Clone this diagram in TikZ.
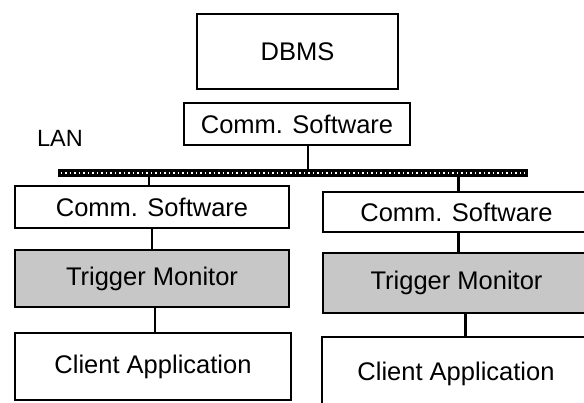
\documentclass[tikz,border=0pt]{standalone}
\usepackage{fontspec}
\setmainfont{Liberation Sans}
\usetikzlibrary{calc}
\begin{document}
\begin{tikzpicture}[x=1pt,y=-1pt,
  box/.style={draw=black, line width=2.6pt, fill=white, rectangle, inner sep=0pt,
    font=\fontsize{25.5}{29}\selectfont},
  shadebox/.style={box, fill=black!22},
  link/.style={draw=black, line width=2.2pt}]
\useasboundingbox (0,0) rectangle (584,402);
% nodes
\node[box, minimum width=201pt, minimum height=75pt] (dbms) at (297.5,51.5) {DBMS};
\node[box, minimum width=226pt, minimum height=42pt] (topcomm) at (297,124) {Comm. Software};
\node[fill=black, rectangle, inner sep=0pt, minimum width=470pt, minimum height=8pt] (lan) at (293,173) {};
\node[font=\fontsize{23.5}{27}\selectfont, inner sep=0pt] (lanlabel) at (60,138) {LAN};
\node[box, minimum width=274pt, minimum height=42pt] (lcomm) at (152,207) {Comm. Software};
\node[shadebox, minimum width=274pt, minimum height=57pt] (ltrig) at (152,278.5) {Trigger Monitor};
\node[box, minimum width=276pt, minimum height=67pt] (lclient) at (153,366.5) {Client Application};
\node[box, minimum width=267pt, minimum height=40pt] (rcomm) at (456.5,212) {Comm. Software};
\node[shadebox, minimum width=267pt, minimum height=60pt] (rtrig) at (456.5,283) {Trigger Monitor};
\node[box, minimum width=268pt, minimum height=73pt] (rclient) at (456,373.5) {Client Application};
% dotted LAN core
\draw[white, line width=1.3pt, dash pattern=on 1.3pt off 3.2pt]
  ([xshift=3pt]lan.west) -- ([xshift=-3pt]lan.east);
% connectors
\draw[link] ([xshift=11pt]topcomm.south) -- ([xshift=11pt]topcomm.south |- lan.north);
\draw[link] ([xshift=-3pt]lcomm.north |- lan.south) -- ([xshift=-3pt]lcomm.north);
\draw[link] (lcomm.south) -- (ltrig.north);
\draw[link] ([xshift=3pt]ltrig.south) -- ([xshift=3pt]ltrig.south |- lclient.north);
\draw[link] ([xshift=2pt]rcomm.north |- lan.south) -- ([xshift=2pt]rcomm.north);
\draw[link] ([xshift=2pt]rcomm.south) -- ([xshift=2pt]rcomm.south |- rtrig.north);
\draw[link] ([xshift=9pt]rtrig.south) -- ([xshift=9pt]rtrig.south |- rclient.north);
\end{tikzpicture}
\end{document}
